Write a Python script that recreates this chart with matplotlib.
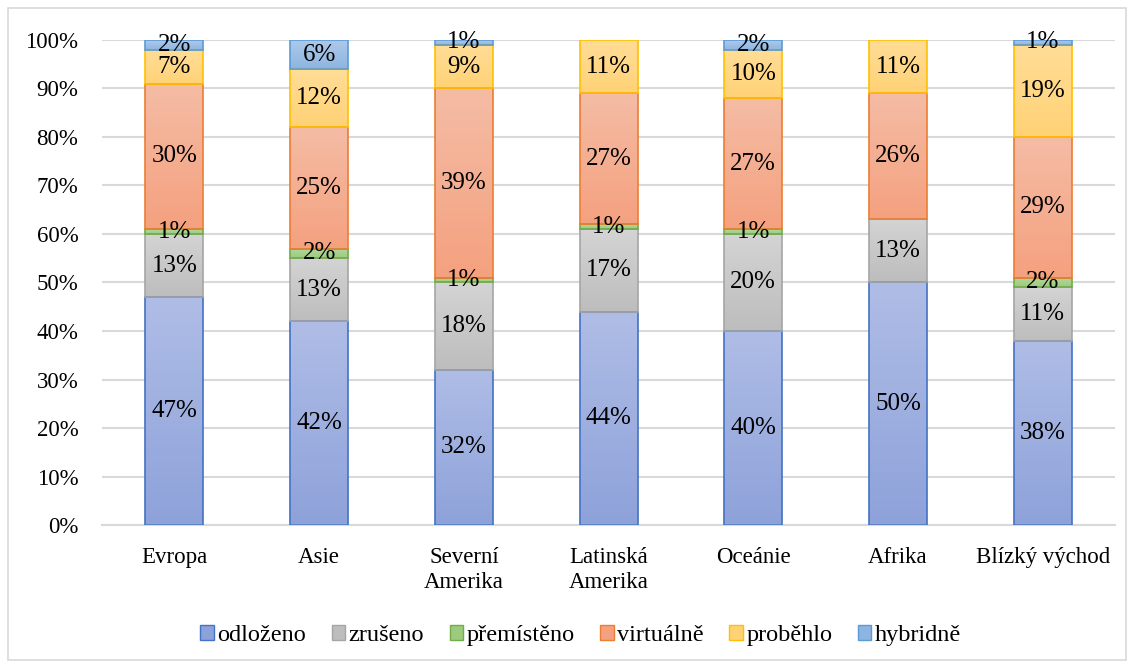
import numpy as np
import matplotlib.pyplot as plt
from matplotlib import colors as mcolors
from matplotlib.patches import Rectangle, Patch

plt.rcParams['font.family'] = ['Liberation Serif', 'DejaVu Serif']

# data (percent)
regions = ['Evropa', 'Asie', 'Severní\nAmerika', 'Latinská\nAmerika', 'Oceánie', 'Afrika', 'Blízký východ']
series = ['odloženo', 'zrušeno', 'přemístěno', 'virtuálně', 'proběhlo', 'hybridně']
odlozeno = [47, 42, 32, 44, 40, 50, 38]
zruseno = [13, 13, 18, 17, 20, 13, 11]
premisteno = [1, 2, 1, 1, 1, 0, 2]
virtualne = [30, 25, 39, 27, 27, 26, 29]
probehlo = [7, 12, 9, 11, 10, 11, 19]
hybridne = [2, 6, 1, 0, 2, 0, 1]
values = [odlozeno, zruseno, premisteno, virtualne, probehlo, hybridne]

# (top colour, bottom colour, edge colour)
styles = [
    ('#AFBDE6', '#8EA2DA', '#4472C4'),
    ('#D4D4D4', '#BDBDBD', '#A5A5A5'),
    ('#B4D79D', '#9CCB7E', '#70AD47'),
    ('#F5BCA5', '#F4A17F', '#ED7D31'),
    ('#FFDD97', '#FFD276', '#FFC000'),
    ('#AECAEA', '#8DB5E1', '#5B9BD5'),
]

fig = plt.figure(figsize=(11.32, 6.64), dpi=100)
ax = fig.add_axes([0.0901, 0.2093, 0.895, 0.7305])

x = np.arange(len(regions))
w = 0.4
bottom = np.zeros(len(regions))
for vals, (ctop, cbot, cedge) in zip(values, styles):
    vals = np.array(vals, dtype=float)
    grad = np.linspace(0, 1, 64).reshape(-1, 1)
    c1 = np.array(mcolors.to_rgb(cbot))
    c2 = np.array(mcolors.to_rgb(ctop))
    img = (c1 + (c2 - c1) * grad[:, :, None]) * np.ones((64, 2, 3))
    for i in range(len(regions)):
        if vals[i] <= 0:
            continue
        x0, x1 = x[i] - w / 2, x[i] + w / 2
        y0, y1 = bottom[i], bottom[i] + vals[i]
        ax.imshow(img, extent=(x0, x1, y0, y1), origin='lower', aspect='auto',
                  interpolation='bilinear', zorder=2)
        ax.add_patch(Rectangle((x0, y0), w, vals[i], facecolor='none',
                               edgecolor=cedge, linewidth=1.2, zorder=3))
        ax.text(x[i], y0 + vals[i] / 2, f'{int(vals[i])}%', ha='center', va='center',
                fontsize=18, color='black', zorder=4)
    bottom += vals

ax.set_xlim(-0.5, len(regions) - 0.5)
ax.set_ylim(0, 100)
ax.set_yticks(np.arange(0, 101, 10))
ax.set_yticklabels([f'{t}%' for t in range(0, 101, 10)])
ax.set_xticks(x)
ax.set_xticklabels(regions, linespacing=1.25)
ax.tick_params(axis='both', length=0, labelsize=16.5, colors='black')
ax.tick_params(axis='y', pad=17)
ax.tick_params(axis='x', pad=16)
ax.grid(axis='y', color='#D9D9D9', linewidth=1.5, zorder=0)
ax.set_axisbelow(True)
for s in ['top', 'right', 'left']:
    ax.spines[s].set_visible(False)
ax.spines['bottom'].set_color('#D9D9D9')
ax.spines['bottom'].set_linewidth(1.5)

handles = [Patch(facecolor=st[1], edgecolor=st[2], label=name)
           for name, st in zip(series, styles)]
fig.legend(handles=handles, loc='center', bbox_to_anchor=(0.513, 0.043), ncol=6,
           frameon=False, fontsize=17.5, handlelength=0.55, handleheight=0.55,
           handletextpad=0.15, columnspacing=1.05)

fig.patches.append(Rectangle((0.007, 0.006), 0.988, 0.982, transform=fig.transFigure,
                             fill=False, edgecolor='#D9D9D9', linewidth=1.2))

fig.savefig('out.png', dpi=100)
